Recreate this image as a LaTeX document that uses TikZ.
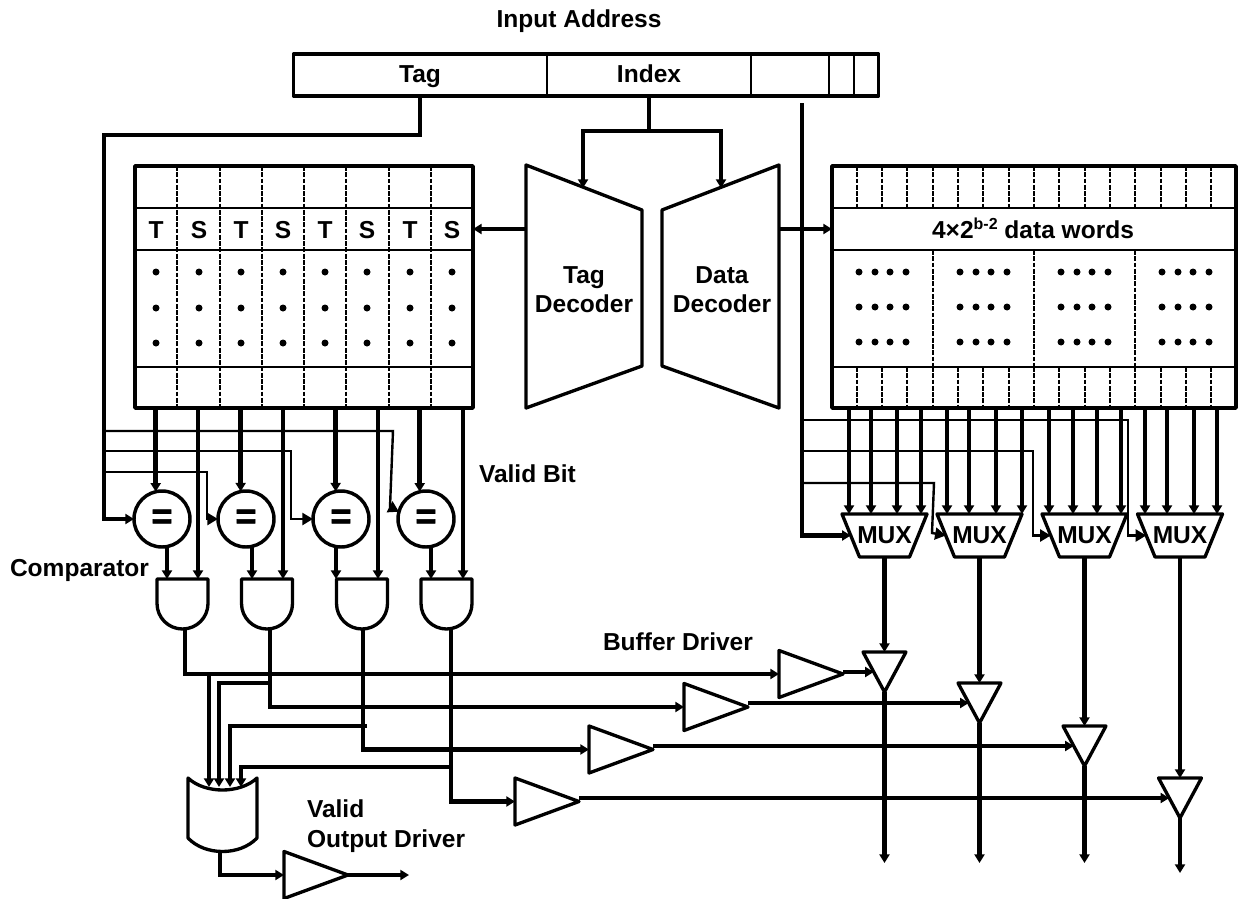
\documentclass[tikz,border=0pt]{standalone}
\usepackage{fontspec}
\setmainfont{Liberation Sans}
\usetikzlibrary{arrows.meta,shapes.geometric,calc}
\def\u{0.75pt}
\tikzset{
  every node/.style={font=\bfseries\fontsize{18.4}{22}\selectfont,inner sep=0pt,outer sep=0pt},
  headS/.tip={Triangle[length=6.5pt,width=7.5pt]},
  headL/.tip={Triangle[length=8pt,width=9pt]},
  frame/.style={draw,line width=2.6pt,line join=round},
  gatebox/.style={rectangle},
  gateline/.style={line width=2.5pt,line join=round},
  rowline/.style={line width=1.5pt},
  cellline/.style={line width=1.1pt},
  colline/.style={line width=1.8pt,dash pattern=on 3.6pt off 1.1pt},
  memwire/.style={line width=3.7pt,-headS},
  wirea/.style={line width=3.2pt,-headS},
  ctla/.style={line width=1.8pt,-headL},
  cmp/.style={circle,draw,line width=2.6pt,minimum size=56*\u,font=\bfseries\fontsize{27}{27}\selectfont\addfontfeature{FakeBold=2}},
  muxbox/.style={gatebox,minimum width=85*\u,minimum height=43*\u},
  buf/.style={isosceles triangle,draw,gateline,isosceles triangle stretches=true,minimum width=47*\u,minimum height=64*\u,anchor=lower side},
  tri/.style={isosceles triangle,draw,gateline,isosceles triangle stretches=true,rotate=-90,minimum width=43*\u,minimum height=40*\u,anchor=lower side},
  dot/.style={fill=black},
}
\begin{document}
\begin{tikzpicture}[x=0.75pt,y=-0.75pt]
\useasboundingbox (0,0) rectangle (1238,899);

% address
\node[anchor=base] (inaddr) at (579,28) {Input Address};
\node[frame,rectangle,minimum width=585*\u,minimum height=42*\u] (addr) at (586,75) {};
\foreach \x in {547,751,829,854} \draw[cellline] (\x,54) -- (\x,96);
\node[anchor=base] (tagfield) at (420,83) {Tag};
\node[anchor=base] (idxfield) at (649,83) {Index};

% tag memory
\node[frame,rectangle,minimum width=338*\u,minimum height=242*\u] (tagmem) at (304,287) {};
\foreach \y in {208,250,367} \draw[rowline] (135,\y) -- (473,\y);
\foreach \x in {177,220,262,304,346,389,431} \draw[colline] (\x,166) -- (\x,408);
\foreach \x/\t [count=\i] in {156/T,199/S,241/T,283/S,325/T,367/S,410/T,452/S}{
  \node[anchor=base] (cell\i) at (\x,238) {\t};
  \foreach \y in {272,308,343} \fill[dot] (\x,\y) circle (3.5);
}

% data memory
\node[frame,rectangle,minimum width=404*\u,minimum height=242*\u] (datamem) at (1034,287) {};
\foreach \y in {208,250,367} \draw[rowline] (832,\y) -- (1236,\y);
\foreach \x in {857,882,907,933,958,983,1009,1034,1059,1085,1110,1135,1161,1186,1211}{
  \draw[colline] (\x,166) -- (\x,208);
  \draw[colline] (\x,367) -- (\x,408);
}
\foreach \x in {933,1034,1135} \draw[colline] (\x,250) -- (\x,367);
\node[anchor=base] (words) at (1033,238) {4×2\raisebox{6.5pt}{\fontsize{12}{12}\selectfont b-2} data words};
\foreach \o in {0,101,202,303}
  \foreach \x in {859,875,890,906}
    \foreach \y in {272,307,342} \fill[dot] ({\x+\o},\y) circle (3.5);

% decoders
\node[gatebox,minimum width=116*\u,minimum height=243*\u] (tagdec) at (584,286.5) {};
\node[gatebox,minimum width=117*\u,minimum height=243*\u] (datadec) at (720.5,286.5) {};
\draw[gateline] (tagdec.north west) -- ([yshift=-45*\u]tagdec.north east) -- ([yshift=42*\u]tagdec.south east) -- (tagdec.south west) -- cycle;
\draw[gateline] (datadec.north east) -- ([yshift=-45*\u]datadec.north west) -- ([yshift=42*\u]datadec.south west) -- (datadec.south east) -- cycle;
\node[align=center] (tagdeclabel) at (584,290) {Tag\\Decoder};
\node[align=center] (datadeclabel) at (722,290) {Data\\Decoder};

\coordinate (hub) at (649,131);
\coordinate (tagdecin) at (583,188);
\coordinate (datadecin) at (721,188);
\coordinate (rowy) at (0,229);
\draw[line width=3.7pt] (hub |- addr.south) -- (hub);
\draw[memwire] (hub) -| (tagdecin);
\draw[memwire] (hub) -| (datadecin);
\draw[memwire] (tagdec.west |- rowy) -- (tagmem.east |- rowy);
\draw[memwire] (datadec.east |- rowy) -- (datamem.west |- rowy);

% comparators
\foreach \x [count=\i] in {162,246,341,426}
  \node[cmp] (cmp\i) at (\x,519) {\raisebox{-3pt}{=}};

% AND gates
\foreach \x [count=\i] in {182.5,267,362,446.5}{
  \node[gatebox,minimum width=51*\u,minimum height=50*\u] (and\i) at (\x,604) {};
  \draw[gateline] (and\i.north west) -- ++(0,24.5) arc[start angle=180,end angle=0,x radius=25.5,y radius=25.5] -- (and\i.north east) -- cycle;
}
\foreach \x [count=\i] in {198,283,378,463} \coordinate (valid\i) at (\x,0);
\foreach \x [count=\i] in {167,252,336,431} \coordinate (andin\i) at (\x,0);
\foreach \x [count=\i] in {185,270,363,451} \coordinate (andout\i) at (\x,630);
\foreach \a/\i in {103/1,101/2,101/3,103/4}{
  \draw[memwire] (cmp\i.\a |- tagmem.south) -- (cmp\i.\a);
  \draw[wirea] (andin\i |- cmp\i.south) -- (andin\i |- and\i.north);
  \draw[wirea] (valid\i |- tagmem.south) -- (valid\i |- and\i.north);
}

% tag bus
\coordinate (tagturn) at (104,135);
\draw[wirea] (tagfield.south |- addr.south) |- (tagturn) |- (cmp1.west);
\coordinate (tb2) at (104,472);
\coordinate (tb3) at (104,451);
\coordinate (tb4) at (104,431);
\coordinate (tu2) at (207,519);
\coordinate (tu3) at (291,519);
\coordinate (tu4a) at (393,431);
\coordinate (tu4b) at (390,507);
\draw[ctla] (tb2) -| (tu2) -- (cmp2.west);
\draw[ctla] (tb3) -| (tu3) -- (cmp3.west);
\draw[ctla] (tb4) -- (tu4a) -- (tu4b) -- (cmp4.165);

% OR gate
\node[gatebox,minimum width=69*\u,minimum height=74*\u] (orgate) at (222.5,815) {};
\draw[gateline] (188,778) .. controls (205,794) and (240,794) .. (257,778) -- (257,838) .. controls (240,856) and (205,856) .. (188,838) -- cycle;
\coordinate (orin1) at (209,787);
\coordinate (orin2) at (219,787);
\coordinate (orin3) at (230,787);
\coordinate (orin4) at (241,787);
\coordinate (orj2) at (270,683);
\coordinate (orj3) at (367,726);
\coordinate (orj4) at (452,767);
\coordinate (orout) at (220,851);

% buffers
\node[buf] (buf1) at (779,674) {};
\node[buf] (buf2) at (684,707) {};
\node[buf] (buf3) at (589,749.5) {};
\node[buf] (buf4) at (515,801.5) {};
\node[buf] (vob) at (284,875) {};
\coordinate (vend) at (409,875);
\draw[wirea] (andout1) |- (buf1.lower side);
\draw[wirea] (andout2) |- (buf2.lower side);
\draw[wirea] (andout3) |- (buf3.lower side);
\draw[wirea] (andout4) |- (buf4.lower side);
\draw[wirea] (orin1 |- buf1.lower side) -- (orin1);
\draw[wirea] (orj2) -| (orin2);
\draw[wirea] (orj3) -| (orin3);
\draw[wirea] (orj4) -| (orin4);
\draw[wirea] (orout) |- (vob.lower side);
\draw[wirea] (vob.apex) -- (vend);

% muxes
\foreach \x [count=\i] in {884.5,979.5,1084.5,1180}{
  \node[muxbox] (mux\i) at (\x,535.5) {MUX};
  \draw[gateline] (mux\i.north west) -- (mux\i.north east) -- ([xshift=-17.5*\u]mux\i.south east) -- ([xshift=17.5*\u]mux\i.south west) -- cycle;
  \coordinate (muxin\i) at ([xshift=8.75*\u]mux\i.west);
}
\foreach \m/\a/\b/\c/\d in {1/849/871/897/921,2/947/969/996/1022,3/1049/1073/1097/1121,4/1145/1167/1194/1217}
  \foreach \x in {\a,\b,\c,\d}
    \draw[wirea] (\x,0 |- datamem.south) -- (\x,0 |- mux\m.north);

% select bus
\coordinate (seltop) at (802,103);
\coordinate (selturn) at (802,535.5);
\draw[wirea] (seltop) -- (selturn) -- (muxin1);
\coordinate (sb2) at (802,483);
\coordinate (sb3) at (802,451);
\coordinate (sb4) at (802,420);
\coordinate (su2a) at (934,483);
\coordinate (su2b) at (932,533);
\coordinate (su3) at (1033,535.5);
\coordinate (su4) at (1128,535.5);
\draw[ctla] (sb2) -- (su2a) -- (su2b) -- (muxin2);
\draw[ctla] (sb3) -| (su3) -- (muxin3);
\draw[ctla] (sb4) -| (su4) -- (muxin4);

% tri-state drivers
\foreach \x/\y/\e [count=\i] in {884.5/652/863,979.5/683/863,1084.5/726/863,1180/778/873}{
  \node[tri] (tri\i) at (\x,\y) {};
  \coordinate (end\i) at (\x,\e);
  \draw[wirea] (mux\i.south) -- (tri\i.lower side);
  \draw[wirea] (tri\i.apex) -- (end\i);
  \draw[wirea] (buf\i.apex |- tri\i.right side) -- (tri\i.right side);
}

% labels
\node[anchor=base west] (validbit) at (479,482) {Valid Bit};
\node[anchor=base west] (comparator) at (10,576) {Comparator};
\node[anchor=base west] (bufdriver) at (603,650) {Buffer Driver};
\node[anchor=west,align=left] (valdriver) at (307,826) {Valid\\Output Driver};
\end{tikzpicture}
\end{document}
